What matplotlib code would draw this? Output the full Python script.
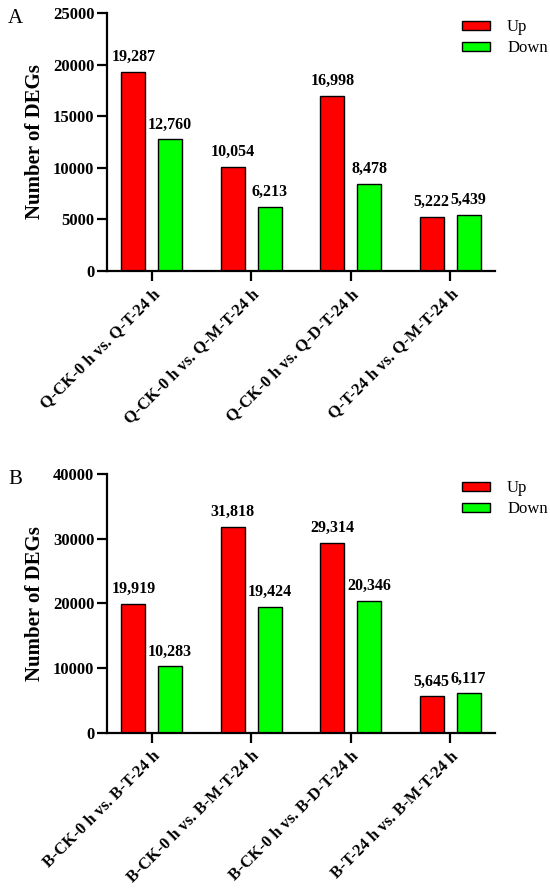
import numpy as np
import matplotlib
matplotlib.use("Agg")
import matplotlib.pyplot as plt
from matplotlib.transforms import ScaledTranslation

plt.rcParams.update({
    'font.family': ['Liberation Serif', 'DejaVu Serif'],
    'font.weight': 'bold',
    'axes.linewidth': 1.6,
})

# Data for the two panels
groups_a = ['Q-CK-0 h vs. Q-T-24 h', 'Q-CK-0 h vs. Q-M-T-24 h',
            'Q-CK-0 h vs. Q-D-T-24 h', 'Q-T-24 h vs. Q-M-T-24 h']
up_a = [19287, 10054, 16998, 5222]
down_a = [12760, 6213, 8478, 5439]

groups_b = ['B-CK-0 h vs. B-T-24 h', 'B-CK-0 h vs. B-M-T-24 h',
            'B-CK-0 h vs. B-D-T-24 h', 'B-T-24 h vs. B-M-T-24 h']
up_b = [19919, 31818, 29314, 5645]
down_b = [10283, 19424, 20346, 6117]

yticks_a = [0, 5000, 10000, 15000, 20000, 25000]
yticks_b = [0, 10000, 20000, 30000, 40000]

UP_COLOR = '#FF0000'
DOWN_COLOR = '#00FF00'


def draw_panel(fig, ax, groups, up, down, yticks, letter):
    x = np.arange(len(groups))
    w = 0.24
    off = 0.185
    b1 = ax.bar(x - off, up, width=w, color=UP_COLOR, edgecolor='black',
                linewidth=1.0, label='Up')
    b2 = ax.bar(x + off, down, width=w, color=DOWN_COLOR, edgecolor='black',
                linewidth=1.0, label='Down')
    for bars in (b1, b2):
        for bar in bars:
            h = bar.get_height()
            ax.annotate(f'{int(h):,}', (bar.get_x() + bar.get_width() / 2, h),
                        xytext=(0, 5), textcoords='offset points',
                        ha='center', va='bottom', fontsize=11.5, fontweight='bold')

    ax.set_xlim(-0.45, len(groups) - 1 + 0.45)
    ax.set_ylim(0, yticks[-1])
    ax.set_yticks(yticks)
    ax.set_yticklabels([str(t) for t in yticks], fontsize=12, fontweight='bold')
    ax.set_xticks(x)
    ax.set_xticklabels(groups, rotation=45, ha='right', rotation_mode='anchor',
                       fontsize=12, fontweight='bold')
    # shift rotated labels a little down/right like the original
    shift = ScaledTranslation(2 / 72, -4 / 72, fig.dpi_scale_trans)
    for lab in ax.get_xticklabels():
        lab.set_transform(lab.get_transform() + shift)
    ax.tick_params(axis='y', length=7, width=1.6, pad=2)
    ax.tick_params(axis='x', length=7, width=1.6, pad=4)
    ax.spines['top'].set_visible(False)
    ax.spines['right'].set_visible(False)
    ax.set_ylabel('Number of DEGs', fontsize=15, fontweight='bold', labelpad=6)

    ax.legend(loc='upper left', bbox_to_anchor=(0.915, 0.975),
              frameon=False, handlelength=1.7, handleheight=0.45,
              handletextpad=1.0, labelspacing=0.3,
              borderpad=0, borderaxespad=0, prop={'weight': 'normal', 'size': 12})
    ax.text(-0.255, 0.98, letter, transform=ax.transAxes, fontsize=15,
            fontweight='normal', ha='left', va='center')


fig = plt.figure(figsize=(5.5, 8.92), dpi=100)
ax_a = fig.add_axes([0.1945, 0.6962, 0.7055, 0.2892])
ax_b = fig.add_axes([0.1945, 0.1783, 0.7055, 0.2903])

draw_panel(fig, ax_a, groups_a, up_a, down_a, yticks_a, 'A')
draw_panel(fig, ax_b, groups_b, up_b, down_b, yticks_b, 'B')

fig.savefig('out.png', dpi=100)
